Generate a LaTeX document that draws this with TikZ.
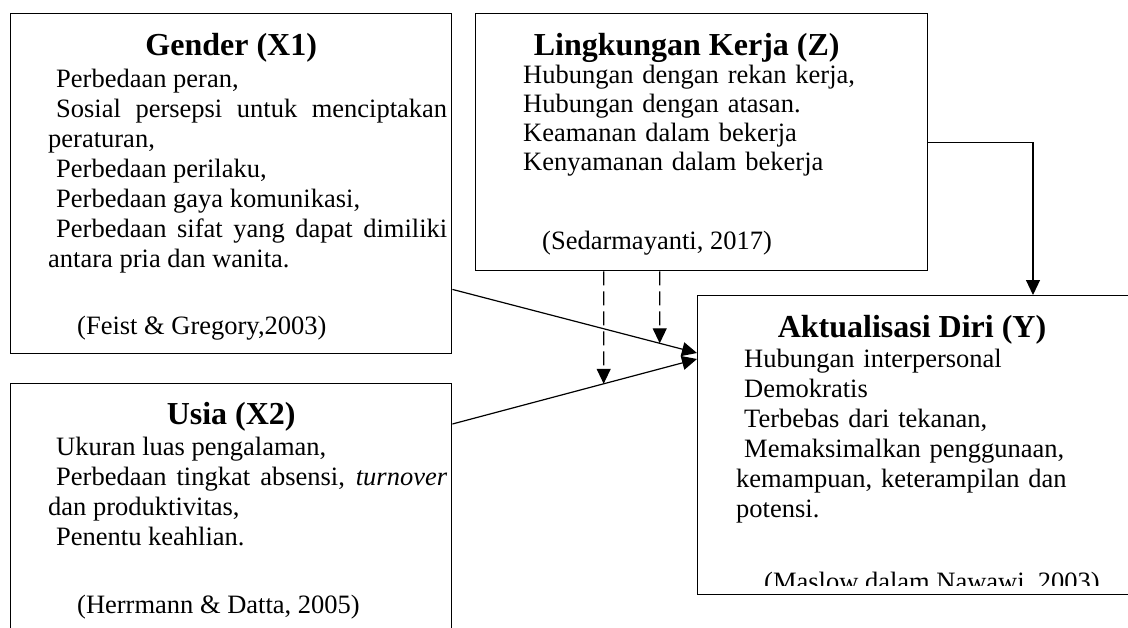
\documentclass[tikz,border=0pt]{standalone}
\usepackage{fontspec}
\setmainfont{Liberation Serif}
\usetikzlibrary{arrows.meta, positioning}

\newcommand{\ind}{\hspace*{8pt}}

\tikzset{
  kotak/.style={draw, line width=1.4pt, inner sep=0pt, anchor=north west},
  judul/.style={font=\fontsize{32}{36}\selectfont\bfseries, inner sep=0pt},
  isi/.style={font=\fontsize{26.5}{30}\selectfont, inner sep=0pt, anchor=north west,
    text width=#1, execute at begin node=\setlength{\parindent}{0pt}},
  isi/.default=399pt,
  sumber/.style={font=\fontsize{26.5}{30}\selectfont, inner sep=0pt, anchor=base west},
  panah/.style={-{Triangle[length=15pt,width=14pt]}, line width=1.2pt},
  putus/.style={panah, dash pattern=on 14pt off 6pt},
}

\begin{document}
\begin{tikzpicture}[x=1pt, y=-1pt]
\clip (0,0) rectangle (1128,627);

% kotak
\node[kotak, minimum width=441pt, minimum height=340pt] (gender) at (10,13) {};
\node[kotak, minimum width=441pt, minimum height=280pt] (usia) at (10,383) {};
\node[kotak, minimum width=452pt, minimum height=257pt] (lk) at (475,13) {};
\node[kotak, minimum width=460pt, minimum height=299pt] (aktual) at (697,295) {};

% judul
\node[judul, below=20pt of gender.north] (genderJudul) {Gender (X1)};
\node[judul, below=19pt of usia.north] (usiaJudul) {Usia (X2)};
\node[judul, below=20pt of lk.north, xshift=-15pt] (lkJudul) {Lingkungan Kerja (Z)};
\node[judul, anchor=north] (aktualJudul) at (912,315) {Aktualisasi Diri (Y)};

% isi
\node[isi, align=justify] (genderIsi) at (48,66) {\strut\ind Perbedaan peran,\\
  \ind Sosial persepsi untuk menciptakan\linebreak peraturan,\\
  \ind Perbedaan perilaku,\\
  \ind Perbedaan gaya komunikasi,\\
  \ind Perbedaan sifat yang dapat dimiliki\linebreak antara pria dan wanita.};
\node[isi, align=justify] (usiaIsi) at (48,434) {\strut\ind Ukuran luas pengalaman,\\
  \ind Perbedaan tingkat absensi, \textit{turnover}\linebreak dan produktivitas,\\
  \ind Penentu keahlian.};
\node[isi=390pt, align=left, font=\fontsize{26.5}{29}\selectfont] (lkIsi) at (523,63) {\strut Hubungan dengan rekan kerja,\\
  Hubungan dengan atasan.\\
  Keamanan dalam bekerja\\
  Kenyamanan dalam bekerja};
\node[isi=380pt, align=left] (aktualIsi) at (736,346) {\strut\ind Hubungan interpersonal\\
  \ind Demokratis\\
  \ind Terbebas dari tekanan,\\
  \ind Memaksimalkan penggunaan,\\
  kemampuan, keterampilan dan\\
  potensi.};

% sumber
\node[sumber] (genderSumber) at (77,334) {(Feist \& Gregory,2003)};
\node[sumber] (usiaSumber) at (77,613) {(Herrmann \& Datta, 2005)};
\node[sumber] (lkSumber) at (542,249) {(Sedarmayanti, 2017)};
\begin{scope}
  \clip (697,295) rectangle (1128,585);
  \node[sumber] (aktualSumber) at (764,590) {(Maslow dalam Nawawi, 2003)};
\end{scope}

% panah
\coordinate (gOut) at ([yshift=65pt]gender.south east);
\coordinate (uOut) at ([yshift=-41pt]usia.north east);
\coordinate (yIn1) at ([yshift=-58pt]aktual.north west);
\coordinate (yIn2) at ([yshift=-64pt]aktual.north west);
\coordinate (zIn) at ([xshift=336pt]aktual.north west);
\coordinate (m1) at ([xshift=-98pt]lk.south);
\coordinate (m1b) at ([yshift=-200pt]m1);
\coordinate (m2) at ([xshift=-42pt]lk.south);
\coordinate (m2b) at ([yshift=-200pt]m2);

\draw[panah] (gOut) -- (yIn1);
\draw[panah] (uOut) -- (yIn2);
\draw[panah] (lk.east) -| (zIn);
\draw[putus] (m1) -- (intersection of m1--m1b and uOut--yIn2);
\draw[putus] (m2) -- (intersection of m2--m2b and gOut--yIn1);
\end{tikzpicture}
\end{document}
